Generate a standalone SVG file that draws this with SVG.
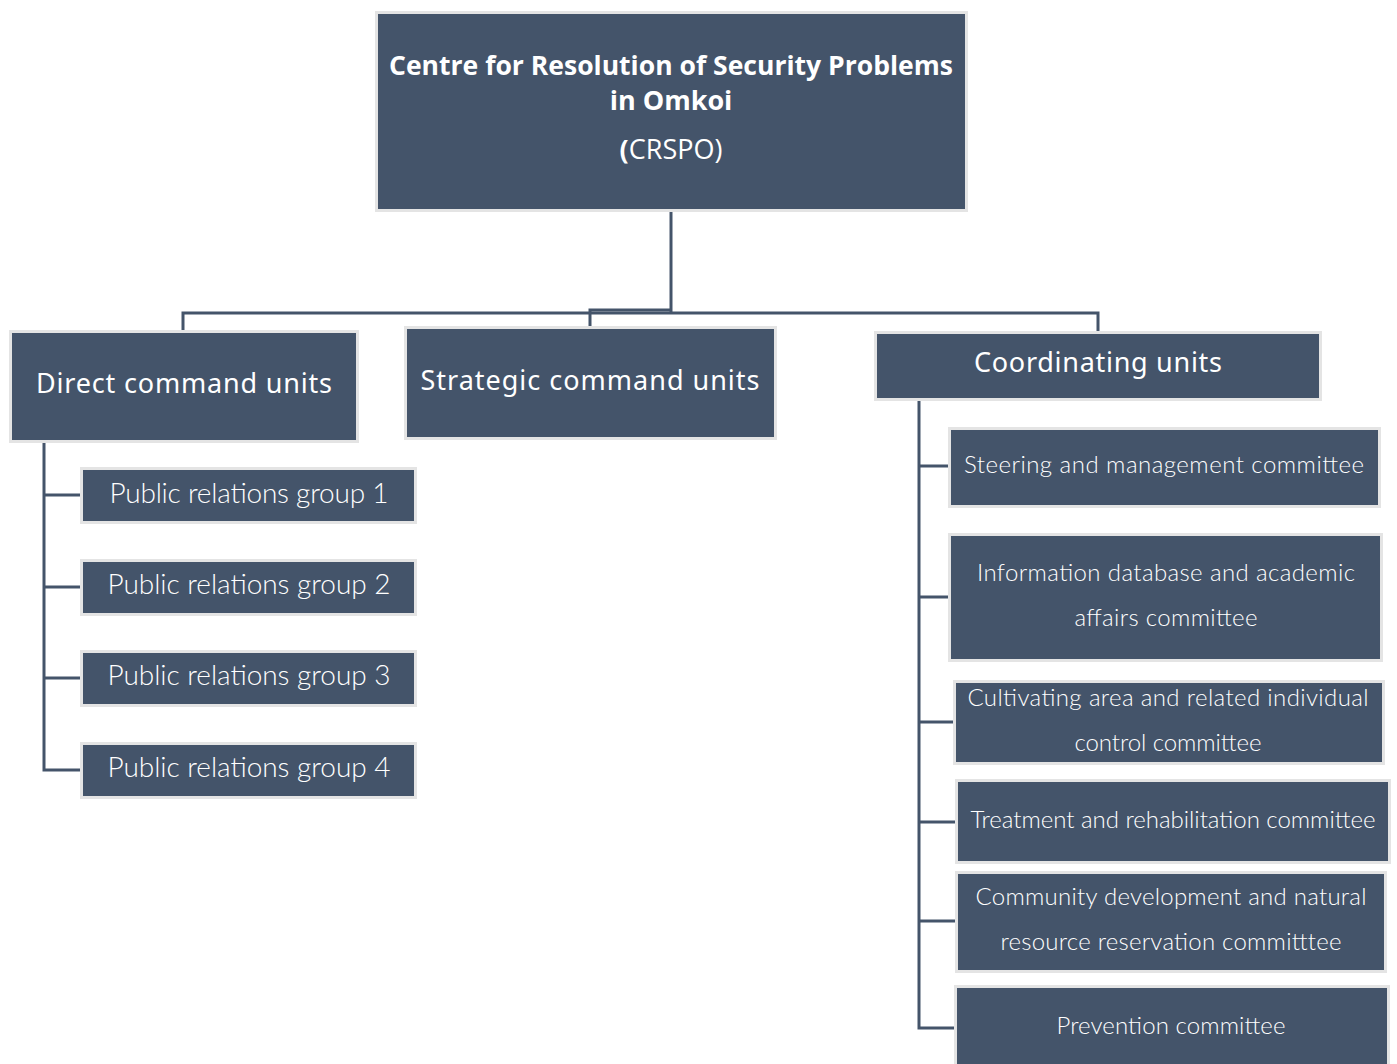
<svg xmlns="http://www.w3.org/2000/svg" width="1397" height="1064" viewBox="0 0 1397 1064">
<style>
.box{fill:#44546A;stroke:#E4E4E4;stroke-width:3}
.ln{fill:none;stroke:#44546A;stroke-width:3}
text{fill:#FFFFFF;text-anchor:middle;font-family:"Open Sans","Noto Sans","Liberation Sans",sans-serif}
.t0{font-size:27px;font-weight:700}
.t0r{font-size:27px;font-weight:400}
.t1{font-size:27px;font-weight:400;font-family:"Noto Sans","Open Sans",sans-serif}
.t2{font-size:24px;font-weight:300;font-family:"Lato","Open Sans","Noto Sans",sans-serif}
.t3{font-size:28px;font-weight:300;font-family:"Lato","Open Sans","Noto Sans",sans-serif}
</style>
<rect width="1397" height="1064" fill="#FFFFFF"/>
<g id="connectors">
<path class="ln" d="M671,212 V313"/>
<path class="ln" d="M183,331 V313 H1098 V331"/>
<path class="ln" d="M671,310 H590 V327"/>
<path class="ln" d="M44,443 V770 H80 M44,495 H80 M44,587 H80 M44,678 H80"/>
<path class="ln" d="M919,401 V1028 H955 M919,466 H948 M919,597 H948 M919,722 H953 M919,822 H956 M919,921 H956"/>
</g>
<g id="n-crspo">
<rect class="box" x="376.5" y="12.5" width="590" height="198"/>
<text class="t0" x="671" y="75" textLength="564" lengthAdjust="spacingAndGlyphs">Centre for Resolution of Security Problems</text>
<text class="t0" x="671" y="110">in Omkoi</text>
<text class="t0r" x="671" y="159"><tspan font-weight="700">(</tspan>CRSPO)</text>
</g>
<g id="n-direct">
<rect class="box" x="10.5" y="331.5" width="347" height="110"/>
<text class="t1" x="184" y="393" textLength="296" lengthAdjust="spacing">Direct command units</text>
</g>
<g id="n-strategic">
<rect class="box" x="405.5" y="327.5" width="370" height="111"/>
<text class="t1" x="590" y="390" textLength="339" lengthAdjust="spacing">Strategic command units</text>
</g>
<g id="n-coord">
<rect class="box" x="875.5" y="332.5" width="445" height="67"/>
<text class="t1" x="1098" y="372" textLength="248" lengthAdjust="spacing">Coordinating units</text>
</g>
<g id="n-pr1">
<rect class="box" x="81.5" y="468.5" width="334" height="54"/>
<text class="t3" x="249" y="503" textLength="279" lengthAdjust="spacing">Public relations group 1</text>
</g>
<g id="n-pr2">
<rect class="box" x="81.5" y="560.5" width="334" height="54"/>
<text class="t3" x="249" y="594" textLength="283" lengthAdjust="spacing">Public relations group 2</text>
</g>
<g id="n-pr3">
<rect class="box" x="81.5" y="651.5" width="334" height="54"/>
<text class="t3" x="249" y="685" textLength="283" lengthAdjust="spacing">Public relations group 3</text>
</g>
<g id="n-pr4">
<rect class="box" x="81.5" y="743.5" width="334" height="54"/>
<text class="t3" x="249" y="777" textLength="283" lengthAdjust="spacing">Public relations group 4</text>
</g>
<g id="n-steering">
<rect class="box" x="949.5" y="428.5" width="430" height="78"/>
<text class="t2" x="1164" y="473" textLength="400" lengthAdjust="spacing">Steering and management committee</text>
</g>
<g id="n-info">
<rect class="box" x="949.5" y="534.5" width="432" height="126"/>
<text class="t2" x="1166" y="581" textLength="378" lengthAdjust="spacing">Information database and academic</text>
<text class="t2" x="1166" y="626" textLength="183" lengthAdjust="spacing">affairs committee</text>
</g>
<g id="n-cultivating">
<rect class="box" x="954.5" y="681.5" width="429" height="82"/>
<text class="t2" x="1168" y="706" textLength="401" lengthAdjust="spacing">Cultivating area and related individual</text>
<text class="t2" x="1168" y="751" textLength="187" lengthAdjust="spacing">control committee</text>
</g>
<g id="n-treatment">
<rect class="box" x="956.5" y="780.5" width="433" height="82"/>
<text class="t2" x="1173" y="828" textLength="405" lengthAdjust="spacing">Treatment and rehabilitation committee</text>
</g>
<g id="n-community">
<rect class="box" x="956.5" y="872.5" width="429" height="99"/>
<text class="t2" x="1171" y="905" textLength="391" lengthAdjust="spacing">Community development and natural</text>
<text class="t2" x="1171" y="950" textLength="341" lengthAdjust="spacing">resource reservation committtee</text>
</g>
<g id="n-prevention">
<rect class="box" x="955.5" y="986.5" width="433" height="90"/>
<text class="t2" x="1171" y="1034" textLength="229" lengthAdjust="spacing">Prevention committee</text>
</g>
</svg>
